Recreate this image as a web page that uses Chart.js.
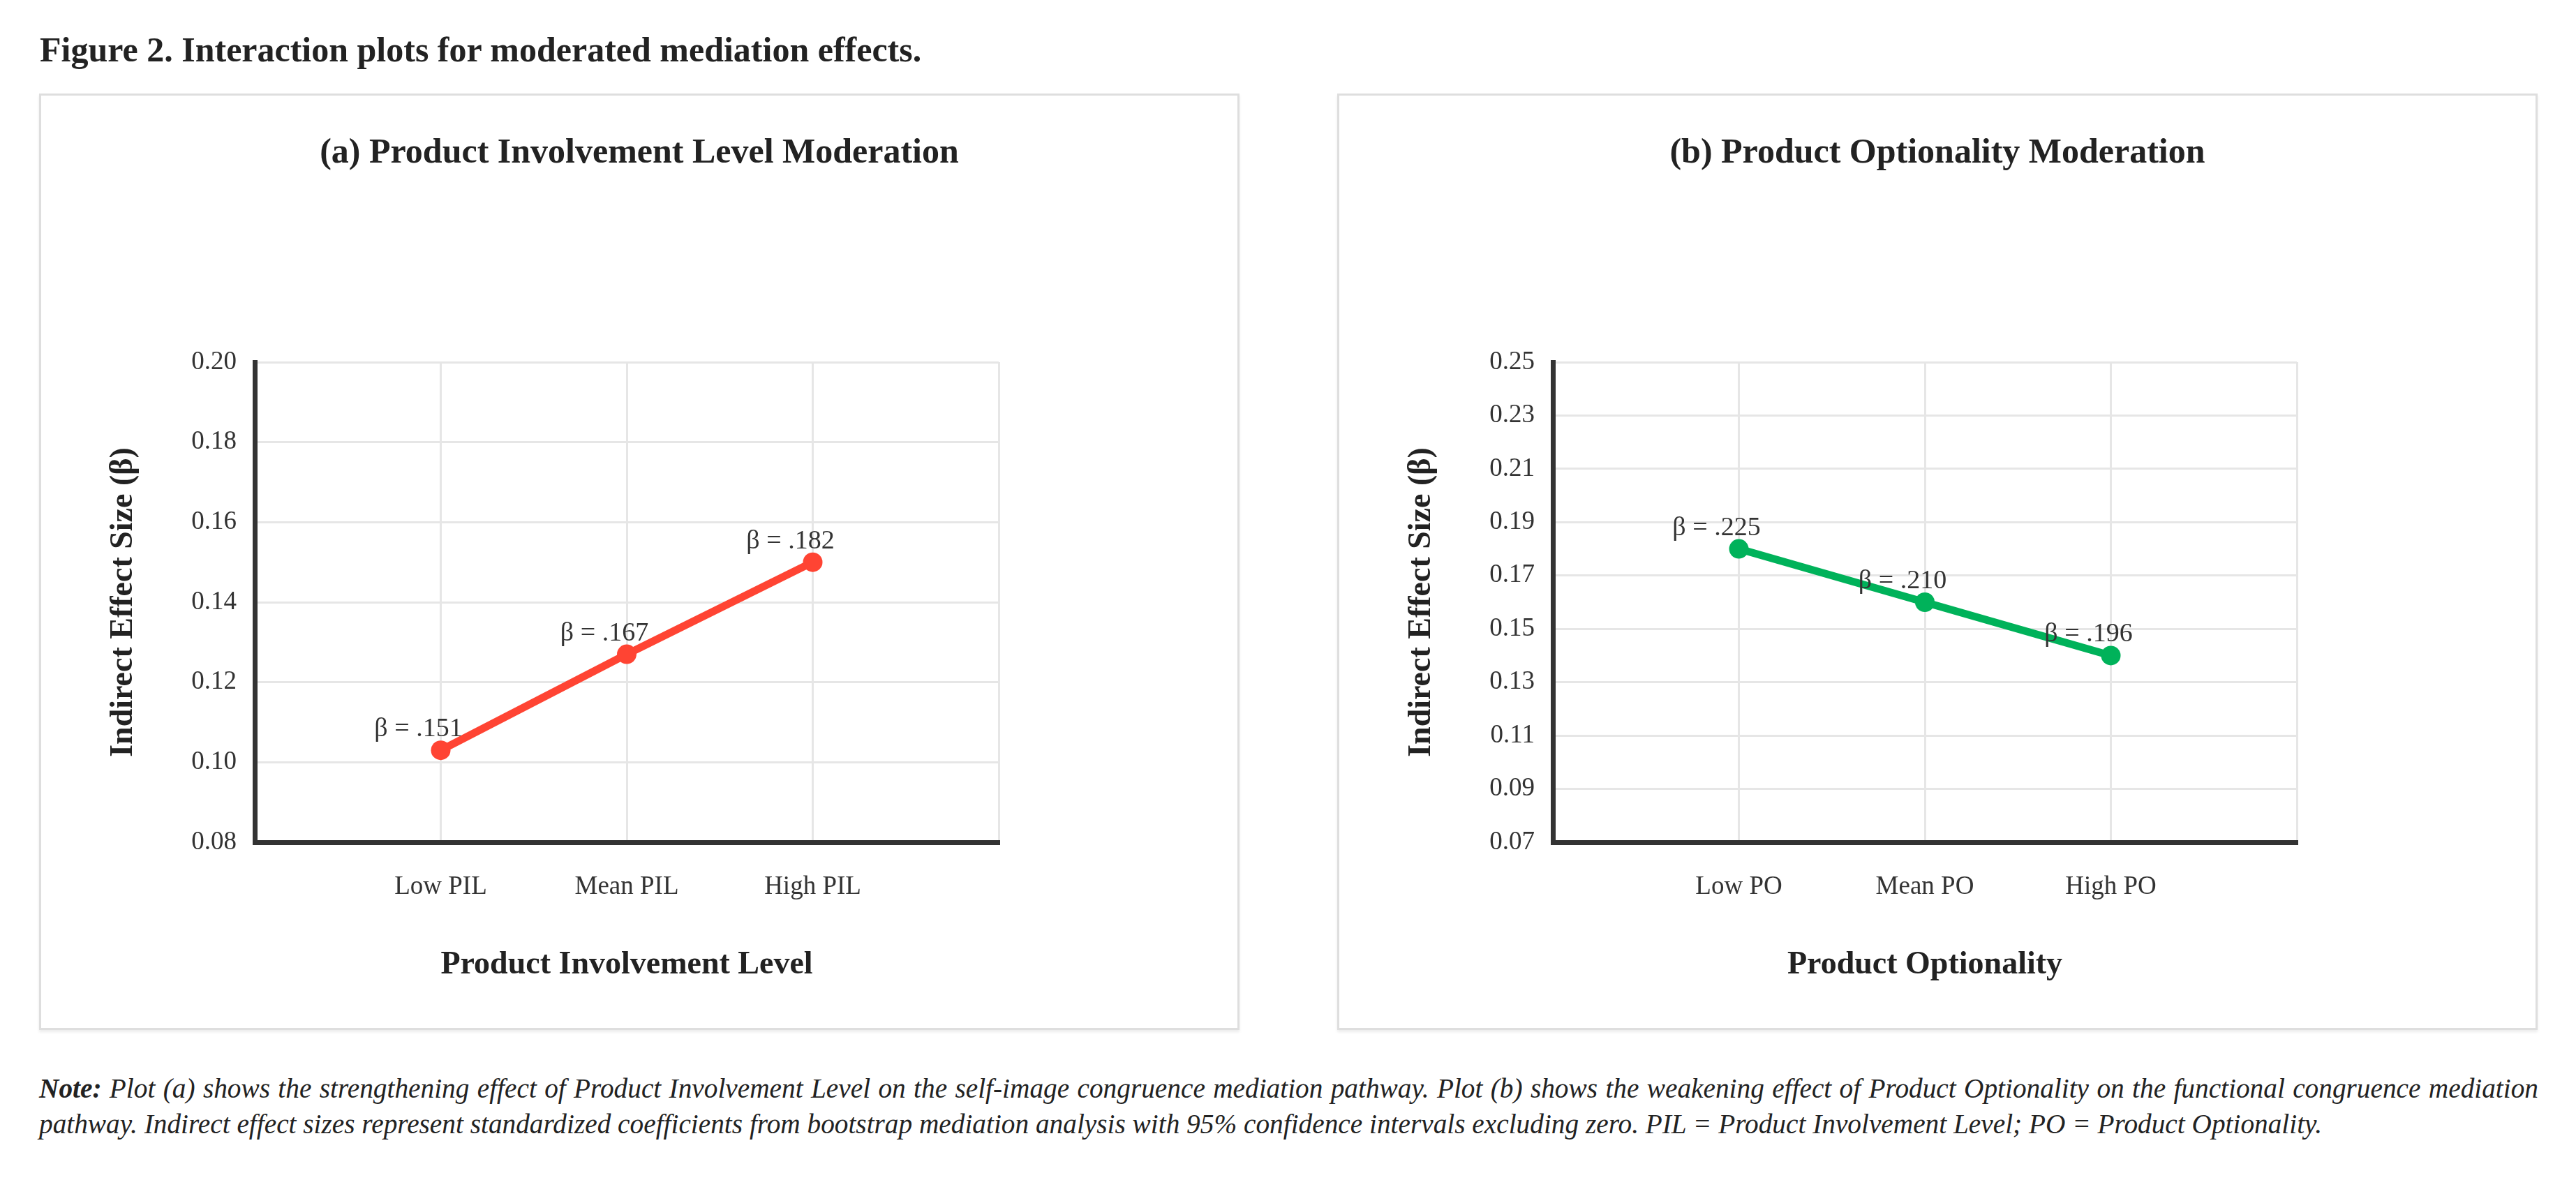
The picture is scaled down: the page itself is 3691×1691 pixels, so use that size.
<!DOCTYPE html>
<html>
<head>
<meta charset="utf-8">
<script src="https://cdn.jsdelivr.net/npm/chart.js@4.4.1/dist/chart.umd.min.js"></script>
<style>
  body { margin: 0; background: #fff; width: 3691px; height: 1691px; position: relative; overflow: hidden;
         font-family: "Liberation Serif", "Times New Roman", serif; color: #222; }
  #fig { position: absolute; left: 57px; top: 41px; font-weight: bold; font-size: 50px; line-height: 60px; white-space: nowrap; }
  .panel { position: absolute; top: 134px; width: 1720px; height: 1342px; box-sizing: border-box;
           border: 3px solid #dedede; box-shadow: 0 3px 4px rgba(0,0,0,0.08); background: #fff; }
  .panel canvas { position: absolute; left: 0; top: 0; }
  #note { position: absolute; left: 56px; top: 1535px; width: 3581px; font-style: italic; font-size: 39.3px; line-height: 51px; }
  #note .l1 { text-align: justify; text-align-last: justify; }
</style>
</head>
<body>
<div id="fig">Figure 2. Interaction plots for moderated mediation effects.</div>
<div class="panel" style="left:56px"><canvas id="chartA" width="1714" height="1336"></canvas></div>
<div class="panel" style="left:1916px"><canvas id="chartB" width="1714" height="1336"></canvas></div>
<div id="note">
  <div class="l1"><b>Note:</b> Plot (a) shows the strengthening effect of Product Involvement Level on the self-image congruence mediation pathway. Plot (b) shows the weakening effect of Product Optionality on the functional congruence mediation</div>
  <div>pathway. Indirect effect sizes represent standardized coefficients from bootstrap mediation analysis with 95% confidence intervals excluding zero. PIL = Product Involvement Level; PO = Product Optionality.</div>
</div>
<script>
// panel (a) - product involvement level
var pilLevels = ['Low PIL', 'Mean PIL', 'High PIL'];
var pilValues = [0.103, 0.127, 0.150];
var pilBetas = ['.151', '.167', '.182'];
var pilTicks = { min: 0.08, max: 0.20, step: 0.02 };

// panel (b) - product optionality
var poLevels = ['Low PO', 'Mean PO', 'High PO'];
var poValues = [0.18, 0.16, 0.14];
var poBetas = ['.225', '.210', '.196'];
var poTicks = { min: 0.07, max: 0.25, step: 0.02 };

var serif = '"Liberation Serif", "Times New Roman", serif';

// writes "β = .xxx" above each point
var betaLabels = {
  id: 'betaLabels',
  afterDatasetsDraw: function (chart, args, opts) {
    var ctx = chart.ctx;
    var meta = chart.getDatasetMeta(0);
    ctx.save();
    ctx.font = '38px ' + serif;
    ctx.fillStyle = '#333';
    ctx.textAlign = 'center';
    ctx.textBaseline = 'alphabetic';
    meta.data.forEach(function (pt, i) {
      var b = opts.labels[i - 1];
      if (!b) return;
      ctx.fillText('β = ' + b, pt.x - 32, pt.y - 20);
    });
    ctx.restore();
  }
};

function makePanel(id, title, xTitle, levels, values, betas, range, color) {
  var gridColor = '#e6e6e6';
  new Chart(document.getElementById(id), {
    type: 'line',
    data: {
      labels: [''].concat(levels, ['']),
      datasets: [{
        data: [null].concat(values, [null]),
        borderColor: color,
        backgroundColor: color,
        borderWidth: 11,
        pointRadius: 14,
        pointHoverRadius: 14,
        pointBorderWidth: 0
      }]
    },
    options: {
      responsive: false,
      devicePixelRatio: 1,
      animation: false,
      layout: { padding: 0 },
      plugins: {
        legend: { display: false },
        tooltip: { enabled: false },
        title: {
          display: true,
          text: title,
          color: '#222',
          font: { family: serif, size: 50, weight: 'bold' },
          padding: { top: 53, bottom: 269 }
        },
        betaLabels: { labels: betas }
      },
      scales: {
        x: {
          offset: false,
          grid: { color: gridColor, lineWidth: 3, drawTicks: false },
          border: { color: '#333', width: 7 },
          ticks: { color: '#333', font: { family: serif, size: 37 }, padding: 42, autoSkip: false, maxRotation: 0 },
          title: { display: true, text: xTitle, color: '#222', font: { family: serif, size: 46, weight: 'bold' }, padding: { top: 0, bottom: 62 } },
          afterFit: function (s) { s.height = 266; }
        },
        y: {
          min: range.min,
          max: range.max,
          grid: { color: gridColor, lineWidth: 3, drawTicks: false },
          border: { color: '#333', width: 7 },
          ticks: {
            stepSize: range.step,
            color: '#333',
            font: { family: serif, size: 37 },
            padding: 26,
            callback: function (v) { return v.toFixed(2); }
          },
          title: { display: true, text: 'Indirect Effect Size (β)', color: '#222', font: { family: serif, size: 46, weight: 'bold' }, padding: { top: 91, bottom: 0 } },
          afterFit: function (s) { s.width = 306; }
        },
        // empty space right of the plot, kept as a blank axis so the title stays centred on the panel
        spacer: {
          type: 'linear',
          position: 'right',
          grid: { display: false },
          border: { display: false },
          ticks: { display: false },
          afterFit: function (s) { s.width = 342; }
        }
      }
    },
    plugins: [betaLabels]
  });
}

makePanel('chartA', '(a) Product Involvement Level Moderation', 'Product Involvement Level',
  pilLevels, pilValues, pilBetas, pilTicks, '#ff4433');
makePanel('chartB', '(b) Product Optionality Moderation', 'Product Optionality',
  poLevels, poValues, poBetas, poTicks, '#00b25a');
</script>
</body>
</html>
